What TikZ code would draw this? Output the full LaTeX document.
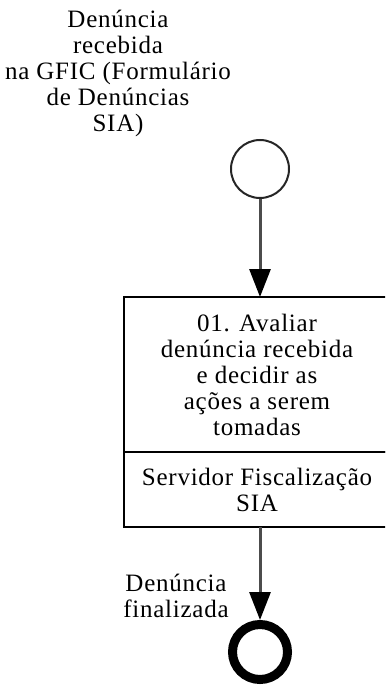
\documentclass[tikz,border=0pt]{standalone}
\usepackage{fontspec}
\setmainfont[LetterSpace=3]{Liberation Serif}
\usepackage{xcolor}
\usetikzlibrary{arrows.meta}
\usetikzlibrary{positioning}
\colorlet{flowgray}{black!70}
\tikzstyle{lbl}=[font=\fontsize{25}{26}\selectfont,align=center,inner sep=0pt]
\tikzstyle{startev}=[circle,draw=black!85,line width=2pt,minimum size=58pt,inner sep=0pt]
\tikzstyle{endev}=[circle,draw=black,line width=9pt,minimum size=55pt,inner sep=0pt]
\tikzstyle{taskbox}=[rectangle,draw=black,line width=2.5pt,minimum width=266pt,outer sep=0pt,lbl]
\tikzstyle{flow}=[line width=3pt,draw=flowgray,-{Triangle[length=28pt,width=21pt,color=black]}]

\begin{document}
\begin{tikzpicture}[x=1pt,y=1pt]
				\clip (0,0) rectangle (385,-687);
				\node[startev] (start) at (260,-169) {};
				\node[lbl] (startlbl) at (118,-73) {Denúncia\\recebida\\na GFIC (Formulário\\de Denúncias\\SIA)};
				\node[taskbox,minimum height=155pt,anchor=north] (task) at (257,-297)
					{01. Avaliar\\denúncia recebida\\e decidir as\\ações a serem\\tomadas};
				\node[taskbox,minimum height=75pt,below=0pt of task] (role) {Servidor Fiscalização\\SIA};
				\node[endev] (finish) at (260,-652) {};
				\node[lbl] (finishlbl) at (176,-596) {Denúncia\\finalizada};
				\draw[flow] (start) -- (start |- task.north);
				\draw[flow] (start |- role.south) -- (finish);
				\end{tikzpicture}
\end{document}
